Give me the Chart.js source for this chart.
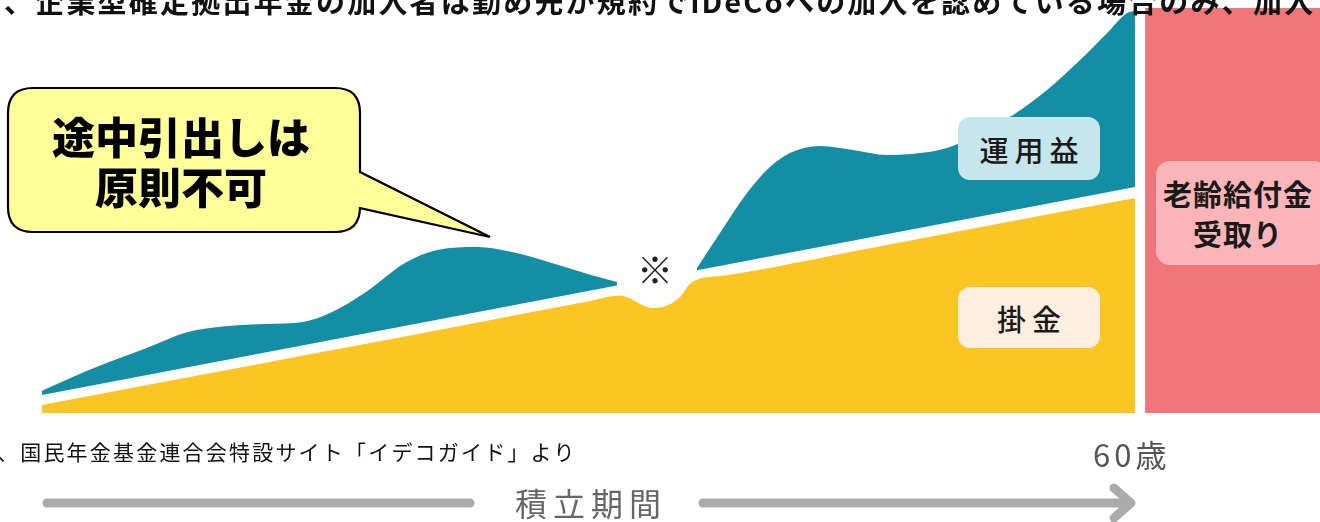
<!DOCTYPE html>
<html lang="ja">
<head>
<meta charset="utf-8">
<script src="https://cdn.jsdelivr.net/npm/chart.js@4.4.1/dist/chart.umd.min.js"></script>
<style>
  html,body{margin:0;padding:0;background:#fff;overflow:hidden;}
  #wrap{position:relative;width:1320px;height:522px;overflow:hidden;font-family:"Noto Sans CJK JP","Noto Sans",sans-serif;}
  canvas{position:absolute;left:0;top:0;}
  .t{position:absolute;white-space:nowrap;}
  .box{position:absolute;display:flex;align-items:center;justify-content:center;text-align:center;}
  svg{position:absolute;left:0;top:0;}
</style>
</head>
<body>
<div id="wrap">
  <canvas id="c" width="1320" height="522"></canvas>
  <svg width="1320" height="522" viewBox="0 0 1320 522">
    <path d="M33,88 H335 Q360,88 360,113 V172 L490,237 L360,208 V207 Q360,232 335,232 H33 Q8,232 8,207 V113 Q8,88 33,88 Z"
          fill="#FFFF99" stroke="#000" stroke-width="2.2" stroke-linejoin="miter"/>
    <line x1="47" y1="503" x2="470" y2="503" stroke="#ABABAB" stroke-width="9" stroke-linecap="round"/>
    <line x1="703" y1="503" x2="1128" y2="503" stroke="#ABABAB" stroke-width="9" stroke-linecap="round"/>
    <polyline points="1114,488 1131,503 1114,518" fill="none" stroke="#ABABAB" stroke-width="9" stroke-linecap="round" stroke-linejoin="round"/>
  </svg>
  <div class="t" style="left:4px;top:-21px;font-size:29px;font-weight:700;color:#111;letter-spacing:2.2px;">、企業型確定拠出年金の加入者は勤め先が規約でiDeCoへの加入を認めている場合のみ、加入</div>
  <div class="t" style="left:0;top:110px;width:362px;text-align:center;font-size:43px;font-weight:900;color:#000;line-height:50px;">途中引出しは<br>原則不可</div>
  <div class="t" style="left:637px;top:247px;font-size:36px;font-weight:500;color:#222;line-height:42px;">※</div>
  <div class="box" style="left:958px;top:117px;width:142px;height:63px;border-radius:12px;background:#C4E6EC;font-size:29px;font-weight:500;color:#1a1a1a;letter-spacing:6px;"><span style="margin-left:6px">運用益</span></div>
  <div class="box" style="left:958px;top:287px;width:142px;height:61px;border-radius:12px;background:#FDEEDF;font-size:29px;font-weight:500;color:#1a1a1a;letter-spacing:6px;"><span style="margin-left:6px">掛金</span></div>
  <div class="box" style="left:1156px;top:161px;width:172px;height:104px;border-radius:14px;background:#FBB5B8;font-size:29px;font-weight:700;color:#1a1a1a;line-height:40px;letter-spacing:1px;"><span style="margin-right:8px">老齢給付金<br>受取り</span></div>
  <div class="t" style="left:-3px;top:436px;font-size:21px;color:#111;letter-spacing:2.2px;">、国民年金基金連合会特設サイト「イデコガイド」より</div>
  <div class="t" style="left:1093px;top:431px;font-size:31px;color:#555;letter-spacing:4px;">60歳</div>
  <div class="t" style="left:515px;top:481px;font-size:32px;color:#666;letter-spacing:6px;line-height:42px;">積立期間</div>
</div>
<script>
// ---- data (x: age, y: amount in arbitrary 万円-like units) ----
const kakekinAges   = [20, 25, 30, 35, 40, 41.15, 41.6, 42.0, 42.36, 42.87, 43.35, 43.8, 45, 50, 55, 60];
const kakekinValues = [18.6, 78.8, 139, 199.1, 259.6, 273, 264, 250, 244, 250, 270, 305, 319.8, 379.9, 440.1, 500];

const unyoLeftAges  = [20, 21.72, 23.92, 25.34, 26.81, 28.23, 29.55, 30.54, 31.86, 33.28, 34.46, 35.92, 37.2, 38.66, 40.09, 41.04];
const unyoLeftTop   = [52, 100, 153.5, 188.4, 202.3, 207, 211.6, 232.6, 281.4, 348.8, 379, 386, 374.4, 348.8, 320.9, 304.7];
const baseLeftAges  = [20, 41.04];
const baseLeftVals  = [41.9, 296.3];

const unyoRightAges = [43.97, 44.81, 45.8, 46.64, 47.37, 48.47, 49.68, 50.92, 52.13, 53.12, 54.33, 55.54, 56.78, 57.99, 58.98, 59.71, 60];
const unyoRightTop  = [337.2, 418.6, 511.6, 572.1, 604.7, 620.9, 611.6, 600, 604.7, 616.3, 651.2, 693, 751.2, 820.9, 883.7, 930.2, 934.9];
const baseRightAges = [43.97, 60];
const baseRightVals = [331.7, 525.6];

const payoutAges    = [60.37, 68];
const payoutValues  = [942, 942];

const pts = (xs, ys) => xs.map((x, i) => ({x: x, y: ys[i]}));

const TEAL = '#138EA5', YELLOW = '#FBC524', PINK = '#F1767A';

new Chart(document.getElementById('c'), {
  type: 'line',
  data: {
    datasets: [
      {label:'受取り', data: pts(payoutAges, payoutValues), borderWidth:0, pointRadius:0, backgroundColor: PINK, fill:'origin', tension:0},
      {label:'掛金', data: pts(kakekinAges, kakekinValues), borderWidth:0, pointRadius:0, backgroundColor: YELLOW, fill:'origin', cubicInterpolationMode:'monotone'},
      {label:'base1', data: pts(baseLeftAges, baseLeftVals), borderWidth:0, pointRadius:0, fill:false, tension:0},
      {label:'運用益', data: pts(unyoLeftAges, unyoLeftTop), borderWidth:0, pointRadius:0, backgroundColor: TEAL, fill:{target:2}, cubicInterpolationMode:'monotone'},
      {label:'base2', data: pts(baseRightAges, baseRightVals), borderWidth:0, pointRadius:0, fill:false, tension:0},
      {label:'運用益2', data: pts(unyoRightAges, unyoRightTop), borderWidth:0, pointRadius:0, backgroundColor: TEAL, fill:{target:4}, cubicInterpolationMode:'monotone'}
    ]
  },
  options: {
    responsive:false, animation:false, maintainAspectRatio:false,
    layout:{padding:0},
    plugins:{legend:{display:false}, tooltip:{enabled:false}, filler:{propagate:false}},
    scales:{
      x:{type:'linear', min:18.463, max:66.77, display:false},
      y:{type:'linear', min:-253.49, max:960.47, display:false}
    }
  }
});
</script>
</body>
</html>
